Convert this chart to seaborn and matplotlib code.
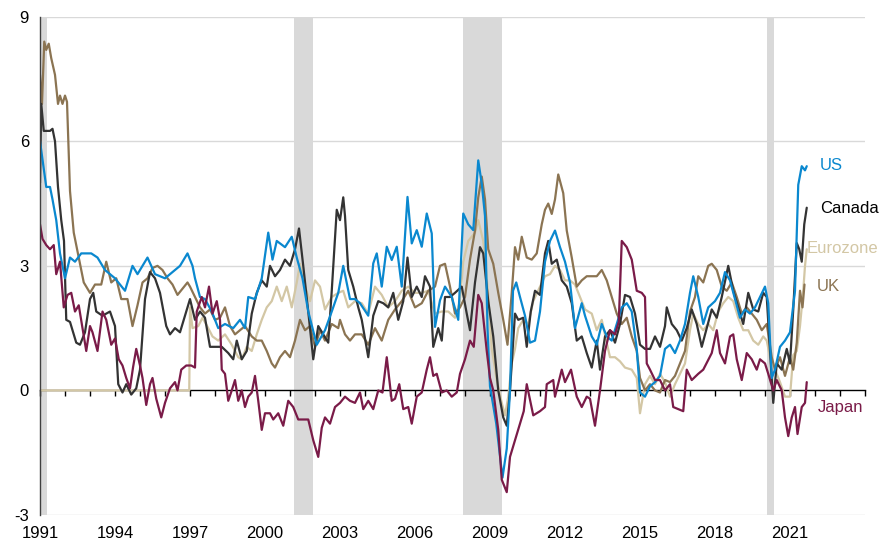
import pandas as pd
import numpy as np
import matplotlib.pyplot as plt
import seaborn as sns

# Headline inflation, % y/y
us_t = [1991.0, 1991.25, 1991.4, 1991.5, 1991.65, 1991.8, 1992.0, 1992.2, 1992.4, 1992.65, 1993.05, 1993.3, 1993.6,
        1994.0, 1994.4, 1994.7, 1994.9, 1995.3, 1995.6, 1996.0, 1996.4, 1996.6, 1996.9, 1997.1, 1997.2, 1997.4,
        1997.6, 1997.87, 1998.13, 1998.4, 1998.73, 1999.0, 1999.2, 1999.33, 1999.6, 1999.87, 2000.13, 2000.3,
        2000.47, 2000.8, 2001.07, 2001.27, 2001.5, 2001.73, 2002.07, 2002.4, 2002.67, 2002.93, 2003.13, 2003.4,
        2003.6, 2003.8, 2004.13, 2004.33, 2004.47, 2004.67, 2004.87, 2005.07, 2005.27, 2005.47, 2005.7, 2005.87,
        2006.07, 2006.27, 2006.47, 2006.67, 2006.8, 2007.0, 2007.2, 2007.47, 2007.73, 2007.93, 2008.13, 2008.33,
        2008.53, 2008.67, 2008.8, 2008.9, 2009.0, 2009.25, 2009.5, 2009.67, 2009.8, 2009.92, 2010.05, 2010.2,
        2010.4, 2010.6, 2010.8, 2011.0, 2011.2, 2011.4, 2011.6, 2011.8, 2012.0, 2012.2, 2012.4, 2012.67, 2012.8,
        2013.07, 2013.27, 2013.47, 2013.67, 2013.87, 2014.07, 2014.27, 2014.47, 2014.67, 2014.87, 2015.0, 2015.2,
        2015.4, 2015.6, 2015.8, 2016.0, 2016.2, 2016.4, 2016.6, 2016.8, 2017.0, 2017.13, 2017.33, 2017.53,
        2017.73, 2018.0, 2018.2, 2018.4, 2018.6, 2018.8, 2019.0, 2019.2, 2019.4, 2019.6, 2019.8, 2020.0, 2020.13,
        2020.27, 2020.4, 2020.6, 2020.8, 2021.0, 2021.2, 2021.33, 2021.47, 2021.6, 2021.67]
us_v = [6.0, 4.9, 4.9, 4.6, 4.1, 3.3, 2.7, 3.2, 3.1, 3.3, 3.3, 3.2, 2.9,
        2.7, 2.4, 3.0, 2.8, 3.2, 2.8, 2.7, 2.9, 3.0, 3.3, 3.0, 2.7, 2.25,
        2.2, 1.9, 1.5, 1.6, 1.5, 1.7, 1.5, 2.25, 2.2, 2.7, 3.8, 3.15,
        3.6, 3.45, 3.7, 3.2, 2.7, 1.9, 1.1, 1.45, 1.9, 2.35, 3.0, 2.2,
        2.2, 2.1, 1.8, 3.06, 3.3, 2.5, 3.46, 3.14, 3.46, 2.5, 4.66, 3.54,
        3.86, 3.46, 4.26, 3.78, 1.53, 2.17, 2.5, 2.25, 1.7, 4.26, 4.0, 3.86,
        5.54, 4.98, 4.2, 1.5, 0.1, -0.8, -2.1, -1.4, 0.0, 2.4, 2.6, 2.25,
        1.8, 1.15, 1.2, 1.9, 3.1, 3.6, 3.85, 3.45, 3.1, 2.6, 1.5, 2.1, 1.8,
        1.3, 1.1, 1.6, 1.3, 1.2, 1.6, 2.0, 2.1, 1.9, 1.0, -0.05, -0.15,
        0.1, 0.2, 0.35, 1.0, 1.1, 0.9, 1.2, 1.6, 2.35, 2.75, 2.25, 1.6,
        2.0, 2.15, 2.35, 2.85, 2.65, 2.2, 1.75, 1.95, 1.85, 2.0, 2.25, 2.5, 2.1,
        0.3, 0.5, 1.05, 1.2, 1.4, 2.4, 4.95, 5.4, 5.3, 5.4]

canada_t = [1991.0, 1991.05, 1991.15, 1991.4, 1991.5, 1991.6, 1991.72, 1991.85, 1991.96, 1992.05, 1992.2, 1992.45,
            1992.6, 1992.8, 1993.0, 1993.13, 1993.25, 1993.5, 1993.8, 1994.0, 1994.13, 1994.3, 1994.45, 1994.65,
            1994.85, 1995.0, 1995.2, 1995.4, 1995.6, 1995.8, 1996.05, 1996.2, 1996.4, 1996.6, 1996.85, 1997.0,
            1997.2, 1997.4, 1997.6, 1997.8, 1998.0, 1998.27, 1998.53, 1998.73, 1998.87, 1999.07, 1999.27, 1999.47,
            1999.67, 1999.87, 2000.07, 2000.2, 2000.4, 2000.6, 2000.8, 2001.0, 2001.2, 2001.36, 2001.53, 2001.73,
            2001.93, 2002.13, 2002.33, 2002.53, 2002.67, 2002.87, 2003.0, 2003.13, 2003.2, 2003.33, 2003.53,
            2003.73, 2003.87, 2004.13, 2004.33, 2004.53, 2004.73, 2004.93, 2005.13, 2005.33, 2005.53, 2005.7,
            2005.87, 2006.07, 2006.27, 2006.4, 2006.6, 2006.73, 2006.93, 2007.07, 2007.2, 2007.4, 2007.6, 2007.87,
            2008.07, 2008.2, 2008.4, 2008.6, 2008.73, 2008.93, 2009.13, 2009.33, 2009.53, 2009.67, 2009.8, 2010.0,
            2010.13, 2010.33, 2010.47, 2010.63, 2010.8, 2011.0, 2011.2, 2011.33, 2011.47, 2011.67, 2011.87,
            2012.07, 2012.27, 2012.47, 2012.67, 2012.87, 2013.07, 2013.27, 2013.4, 2013.6, 2013.8, 2014.0, 2014.2,
            2014.4, 2014.6, 2014.8, 2015.0, 2015.2, 2015.4, 2015.6, 2015.8, 2016.0, 2016.07, 2016.27, 2016.47,
            2016.67, 2016.87, 2017.07, 2017.27, 2017.47, 2017.67, 2017.87, 2018.07, 2018.27, 2018.53, 2018.73,
            2018.93, 2019.13, 2019.33, 2019.53, 2019.73, 2019.93, 2020.07, 2020.2, 2020.33, 2020.47, 2020.67,
            2020.87, 2021.0, 2021.13, 2021.27, 2021.37, 2021.47, 2021.57, 2021.67]
canada_v = [5.0, 6.9, 6.25, 6.25, 6.3, 6.0, 4.9, 4.1, 3.6, 1.7, 1.65, 1.15,
            1.1, 1.4, 2.2, 2.35, 1.9, 1.8, 1.9, 1.55, 0.15, -0.05, 0.15, -0.1,
            0.05, 0.5, 2.2, 2.85, 2.7, 2.35, 1.55, 1.35, 1.5, 1.4, 1.9, 2.2,
            1.7, 1.9, 1.75, 1.05, 1.05, 1.05, 0.9, 0.75, 1.2, 0.75, 0.95, 1.85,
            2.35, 2.65, 2.5, 3.0, 2.75, 2.9, 3.15, 3.0, 3.4, 3.9, 3.0, 1.9,
            0.75, 1.55, 1.35, 1.15, 2.4, 4.35, 4.1, 4.65, 4.2, 2.9, 2.5,
            2.0, 1.7, 0.8, 1.8, 2.15, 2.1, 2.0, 2.35, 1.7, 2.15, 3.2,
            2.25, 2.5, 2.25, 2.75, 2.5, 1.05, 1.5, 1.2, 2.25, 2.25, 2.35, 2.5,
            1.85, 1.45, 2.6, 3.45, 3.3, 2.15, 1.3, 0.0, -0.65, -0.85, 0.0, 1.85,
            1.7, 1.75, 1.05, 1.9, 2.4, 2.3, 3.3, 3.6, 3.05, 3.15, 2.65,
            2.5, 2.1, 1.2, 1.3, 0.9, 0.55, 1.2, 0.5, 1.3, 1.45, 1.15, 1.6,
            2.3, 2.25, 1.85, 1.1, 1.0, 1.0, 1.3, 1.05, 1.55, 2.0, 1.6, 1.45,
            1.2, 1.5, 1.95, 1.6, 1.05, 1.5, 1.95, 1.75, 2.25, 3.0, 2.4,
            2.0, 1.6, 2.35, 1.95, 1.9, 2.35, 2.25, 0.95, -0.3, 0.65, 0.5,
            1.0, 0.65, 1.95, 3.55, 3.4, 3.1, 4.0, 4.4]

euro_t = [1991.0, 1996.97, 1997.0, 1997.1, 1997.33, 1997.5, 1997.73, 1997.9, 1998.13, 1998.4, 1998.67, 1998.93,
          1999.07, 1999.27, 1999.47, 1999.67, 1999.87, 2000.07, 2000.27, 2000.47, 2000.67, 2000.87, 2001.07,
          2001.27, 2001.4, 2001.6, 2001.8, 2002.0, 2002.2, 2002.4, 2002.67, 2002.93, 2003.13, 2003.33, 2003.6,
          2003.87, 2004.13, 2004.4, 2004.67, 2004.93, 2005.2, 2005.47, 2005.73, 2006.0, 2006.27, 2006.53, 2006.8,
          2007.07, 2007.33, 2007.6, 2007.8, 2007.93, 2008.13, 2008.4, 2008.53, 2008.73, 2008.93, 2009.07,
          2009.27, 2009.47, 2009.6, 2009.73, 2009.87, 2010.0, 2010.13, 2010.33, 2010.53, 2010.73, 2011.0, 2011.2,
          2011.4, 2011.6, 2011.8, 2012.0, 2012.2, 2012.4, 2012.6, 2012.8, 2013.07, 2013.27, 2013.47, 2013.67,
          2013.8, 2014.0, 2014.2, 2014.4, 2014.67, 2014.87, 2015.0, 2015.2, 2015.4, 2015.6, 2015.8, 2016.0,
          2016.2, 2016.4, 2016.6, 2016.8, 2017.0, 2017.13, 2017.33, 2017.53, 2017.73, 2017.93, 2018.13, 2018.33,
          2018.53, 2018.73, 2018.93, 2019.13, 2019.33, 2019.53, 2019.73, 2019.93, 2020.07, 2020.2, 2020.4,
          2020.6, 2020.8, 2021.0, 2021.13, 2021.27, 2021.4, 2021.53, 2021.6, 2021.67]
euro_v = [0.0, 0.0, 2.0, 1.5, 1.55, 1.75, 1.5, 1.3, 1.2, 1.35, 1.1, 0.8,
          0.75, 1.05, 0.95, 1.35, 1.7, 2.0, 2.15, 2.5, 2.15, 2.5, 2.0,
          2.6, 3.05, 2.5, 2.15, 2.65, 2.5, 1.95, 2.25, 2.35, 2.4, 2.0, 2.15,
          2.1, 1.85, 2.5, 2.3, 2.0, 2.15, 2.4, 2.5, 2.35, 2.35, 2.4, 1.85,
          1.9, 1.9, 1.75, 2.15, 3.1, 3.6, 3.8, 4.1, 3.6, 2.3, 1.0,
          0.25, -0.3, -0.6, -0.15, 0.65, 1.0, 1.5, 1.7, 1.6, 2.15, 2.5, 2.75,
          2.8, 3.0, 2.9, 2.65, 2.65, 2.55, 2.25, 1.95, 1.85, 1.45, 1.7, 1.15,
          0.8, 0.8, 0.7, 0.55, 0.5, 0.3, -0.55, 0.15, 0.35, 0.15, 0.4, 0.2,
          -0.15, 0.15, 0.4, 0.65, 1.45, 1.85, 1.6, 1.45, 1.6, 1.45, 1.9, 2.1,
          2.25, 2.15, 1.75, 1.45, 1.45, 1.2, 1.1, 1.3, 1.2, 0.8, 0.5,
          0.2, -0.15, -0.15, 0.85, 0.95, 1.55, 2.4, 3.0, 3.4]

uk_t = [1991.0, 1991.08, 1991.17, 1991.25, 1991.35, 1991.45, 1991.6, 1991.72, 1991.8, 1991.9, 1992.0, 1992.08,
        1992.2, 1992.35, 1992.55, 1992.75, 1993.0, 1993.2, 1993.45, 1993.65, 1993.85, 1994.05, 1994.25, 1994.5,
        1994.7, 1994.9, 1995.1, 1995.3, 1995.5, 1995.7, 1995.9, 1996.1, 1996.3, 1996.5, 1996.7, 1996.9, 1997.0,
        1997.2, 1997.4, 1997.6, 1997.8, 1998.0, 1998.2, 1998.4, 1998.6, 1998.8, 1999.0, 1999.2, 1999.47, 1999.67,
        1999.87, 2000.07, 2000.27, 2000.4, 2000.6, 2000.8, 2001.0, 2001.2, 2001.4, 2001.6, 2001.8, 2002.0,
        2002.2, 2002.4, 2002.67, 2002.93, 2003.0, 2003.2, 2003.4, 2003.6, 2003.87, 2004.13, 2004.4, 2004.67,
        2004.93, 2005.2, 2005.47, 2005.73, 2006.0, 2006.27, 2006.53, 2006.8, 2007.0, 2007.2, 2007.4, 2007.6,
        2007.8, 2008.0, 2008.2, 2008.4, 2008.53, 2008.67, 2008.8, 2008.93, 2009.13, 2009.33, 2009.53, 2009.7,
        2009.87, 2010.0, 2010.13, 2010.27, 2010.47, 2010.67, 2010.87, 2011.07, 2011.2, 2011.33, 2011.47,
        2011.6, 2011.73, 2011.93, 2012.07, 2012.27, 2012.47, 2012.67, 2012.87, 2013.07, 2013.27, 2013.47,
        2013.67, 2013.87, 2014.07, 2014.27, 2014.47, 2014.67, 2014.87, 2015.0, 2015.2, 2015.4, 2015.6, 2015.8,
        2016.0, 2016.2, 2016.4, 2016.6, 2016.8, 2017.0, 2017.2, 2017.33, 2017.53, 2017.73, 2017.87, 2018.07,
        2018.27, 2018.47, 2018.67, 2018.87, 2019.07, 2019.27, 2019.47, 2019.67, 2019.87, 2020.07, 2020.27,
        2020.4, 2020.6, 2020.8, 2021.0, 2021.13, 2021.27, 2021.4, 2021.5, 2021.58]
uk_v = [7.6, 6.9, 8.4, 8.2, 8.35, 8.0, 7.6, 6.9, 7.1, 6.9, 7.1, 6.95,
        4.8, 3.8, 3.2, 2.6, 2.35, 2.55, 2.55, 3.1, 2.6, 2.7, 2.2, 2.2,
        1.55, 2.05, 2.6, 2.7, 2.95, 3.0, 2.9, 2.7, 2.55, 2.3, 2.45, 2.6, 2.5,
        2.25, 2.0, 1.85, 1.95, 1.7, 1.75, 2.0, 1.55, 1.35, 1.45, 1.55, 1.3, 1.2,
        1.2, 0.95, 0.65, 0.55, 0.8, 0.95, 0.8, 1.2, 1.7, 1.45, 1.55, 1.05,
        1.45, 1.2, 1.6, 1.5, 1.7, 1.35, 1.2, 1.35, 1.35, 1.1, 1.5, 1.2,
        1.7, 1.95, 2.15, 2.4, 2.0, 2.1, 2.4, 2.5, 3.0, 3.05, 2.5, 1.85,
        2.0, 2.25, 3.15, 3.85, 4.65, 5.15, 4.6, 3.4, 3.05, 2.35, 1.7, 1.1,
        2.35, 3.45, 3.15, 3.7, 3.2, 3.15, 3.3, 4.0, 4.35, 4.5, 4.25,
        4.6, 5.2, 4.75, 3.85, 3.2, 2.5, 2.65, 2.75, 2.75, 2.75, 2.9,
        2.65, 2.25, 1.85, 1.6, 1.75, 1.3, 0.95, 0.3, 0.0, 0.15, 0.0, -0.05,
        0.25, 0.2, 0.35, 0.65, 0.95, 1.9, 2.25, 2.75, 2.6, 3.0, 3.05, 2.9,
        2.5, 2.4, 2.6, 2.25, 1.85, 2.0, 1.85, 1.7, 1.45, 1.6, 0.8,
        0.5, 0.8, 0.35, 0.8, 0.5, 1.15, 2.4, 2.0, 2.55]

japan_t = [1991.0, 1991.1, 1991.25, 1991.4, 1991.55, 1991.65, 1991.8, 1991.95, 1992.1, 1992.25, 1992.4, 1992.55,
           1992.7, 1992.85, 1993.0, 1993.1, 1993.3, 1993.5, 1993.65, 1993.85, 1994.0, 1994.15, 1994.3, 1994.45,
           1994.6, 1994.72, 1994.85, 1995.0, 1995.1, 1995.25, 1995.4, 1995.5, 1995.65, 1995.85, 1996.0, 1996.2,
           1996.4, 1996.5, 1996.65, 1996.85, 1997.05, 1997.2, 1997.27, 1997.47, 1997.6, 1997.76, 1997.9, 1998.07,
           1998.2, 1998.27, 1998.4, 1998.53, 1998.67, 1998.8, 1998.93, 1999.07, 1999.2, 1999.33, 1999.47, 1999.6,
           1999.73, 1999.87, 2000.0, 2000.2, 2000.33, 2000.53, 2000.73, 2000.93, 2001.13, 2001.33, 2001.53,
           2001.73, 2001.93, 2002.13, 2002.27, 2002.4, 2002.6, 2002.8, 2003.0, 2003.2, 2003.4, 2003.6, 2003.8,
           2003.93, 2004.13, 2004.33, 2004.53, 2004.7, 2004.87, 2005.07, 2005.2, 2005.37, 2005.53, 2005.73,
           2005.87, 2006.07, 2006.27, 2006.47, 2006.6, 2006.73, 2006.87, 2007.07, 2007.27, 2007.47, 2007.67,
           2007.8, 2008.0, 2008.2, 2008.35, 2008.53, 2008.67, 2008.87, 2009.0, 2009.13, 2009.33, 2009.47, 2009.67,
           2009.8, 2010.0, 2010.2, 2010.35, 2010.47, 2010.73, 2011.0, 2011.2, 2011.27, 2011.53, 2011.6, 2011.87,
           2012.0, 2012.24, 2012.47, 2012.67, 2012.87, 2013.0, 2013.2, 2013.4, 2013.6, 2013.8, 2014.0, 2014.15,
           2014.27, 2014.47, 2014.67, 2014.87, 2015.07, 2015.2, 2015.27, 2015.4, 2015.6, 2015.8, 2016.0, 2016.2,
           2016.33, 2016.53, 2016.73, 2016.87, 2017.07, 2017.33, 2017.53, 2017.7, 2017.87, 2018.07, 2018.2,
           2018.4, 2018.6, 2018.73, 2018.87, 2019.07, 2019.27, 2019.47, 2019.67, 2019.8, 2020.0, 2020.13,
           2020.33, 2020.47, 2020.67, 2020.8, 2020.93, 2021.07, 2021.2, 2021.3, 2021.47, 2021.6, 2021.67]
japan_v = [4.0, 3.65, 3.5, 3.4, 3.5, 2.8, 3.1, 2.0, 2.3, 2.35, 1.9, 2.05,
           1.5, 0.95, 1.55, 1.4, 0.95, 1.9, 1.7, 1.1, 1.25, 0.75, 0.6, 0.3,
           0.05, 0.55, 1.0, 0.6, 0.3, -0.35, 0.15, 0.3, -0.2, -0.65, -0.3, 0.05,
           0.2, 0.0, 0.5, 0.6, 0.6, 0.55, 1.9, 2.25, 2.0, 2.5, 1.85, 2.15,
           1.7, 0.5, 0.4, -0.25, 0.0, 0.25, -0.25, 0.0, -0.4, -0.15, -0.05, 0.35,
           -0.25, -0.95, -0.55, -0.55, -0.7, -0.55, -0.85, -0.25, -0.4, -0.7, -0.7,
           -0.7, -1.2, -1.6, -0.9, -0.65, -0.8, -0.4, -0.3, -0.15, -0.25, -0.3, -0.05,
           -0.45, -0.25, -0.45, 0.0, -0.05, 0.8, -0.25, -0.2, 0.15, -0.45, -0.4,
           -0.8, -0.15, -0.05, 0.5, 0.8, 0.35, 0.4, -0.05, 0.0, -0.15, -0.05,
           0.4, 0.75, 1.2, 1.05, 2.3, 2.1, 0.95, 0.3, 0.0, -0.95, -2.15, -2.45,
           -1.6, -1.2, -0.8, -0.5, 0.15, -0.6, -0.5, -0.4, 0.15, 0.25, -0.15, 0.5,
           0.2, 0.5, -0.15, -0.4, -0.15, -0.2, -0.85, 0.0, 0.95, 1.45, 1.35, 1.65,
           3.6, 3.45, 3.15, 2.4, 2.35, 2.25, 0.65, 0.5, 0.25, 0.25, 0.0, 0.15,
           -0.4, -0.45, -0.5, 0.5, 0.25, 0.4, 0.5, 0.7, 0.9, 1.45, 0.9,
           0.65, 1.3, 1.35, 0.75, 0.25, 0.9, 0.75, 0.5, 0.75, 0.65, 0.4,
           0.0, 0.25, 0.0, -0.65, -1.1, -0.65, -0.4, -1.05, -0.4, -0.3, 0.2]

series = ['Eurozone', 'UK', 'Canada', 'US', 'Japan']
colors = {'US': '#0a88cf', 'Canada': '#333333', 'Eurozone': '#d3c7a5', 'UK': '#8b7452', 'Japan': '#7a1b48'}
label_colors = {'US': '#0a88cf', 'Canada': '#000000', 'Eurozone': '#d3c7a5', 'UK': '#8b7452', 'Japan': '#7a1b48'}
label_pos = {'US': (2022.2, 5.42), 'Canada': (2022.2, 4.38), 'Eurozone': (2021.65, 3.42),
             'UK': (2022.05, 2.5), 'Japan': (2022.1, -0.42)}
recessions = [(1991.0, 1991.27), (2001.15, 2001.93), (2007.9, 2009.5), (2020.07, 2020.35)]

frames = []
for name, t, v in [('US', us_t, us_v), ('Canada', canada_t, canada_v), ('Eurozone', euro_t, euro_v),
                   ('UK', uk_t, uk_v), ('Japan', japan_t, japan_v)]:
    frames.append(pd.DataFrame({'year': t, 'value': v, 'country': name}))
df = pd.concat(frames, ignore_index=True)

sns.set_theme(style='white')
plt.rcParams['font.family'] = ['Liberation Sans', 'DejaVu Sans']
plt.rcParams['axes.unicode_minus'] = False

fig = plt.figure(figsize=(8.83, 5.46), dpi=100)
ax = fig.add_axes([40 / 883, 31 / 546, 825 / 883, 498.3 / 546])

for x0, x1 in recessions:
    ax.axvspan(x0, x1, color='#d9d9d9', lw=0, zorder=0)

for y in [-3, 3, 6, 9]:
    ax.axhline(y, color='#d9d9d9', lw=1, zorder=0.5)

for name in series:
    sub = df[df['country'] == name]
    sns.lineplot(data=sub, x='year', y='value', color=colors[name], lw=1.6,
                 estimator=None, sort=False, ax=ax, legend=False, zorder=2)

for name, (x, y) in label_pos.items():
    ax.text(x, y, name, color=label_colors[name], fontsize=12, va='center', ha='left')

ax.set_xlim(1991, 2024)
ax.set_ylim(-3, 9)
ax.set_xticks(range(1991, 2022, 3))
ax.set_yticks([-3, 0, 3, 6, 9])
ax.tick_params(axis='x', length=0, labelsize=12, pad=8, colors='#000000')
ax.tick_params(axis='y', length=5, width=1, direction='out', labelsize=12, colors='#404040', labelcolor='#000000', pad=3)
ax.set_xlabel('')
ax.set_ylabel('')
for s in ['top', 'right', 'bottom']:
    ax.spines[s].set_visible(False)
ax.spines['left'].set_color('#404040')
ax.spines['left'].set_linewidth(1)

# zero line with yearly tick marks
zero = ax.secondary_xaxis(0.25)
zero.set_xticks(range(1991, 2025))
zero.set_xticklabels([])
zero.tick_params(axis='x', length=4, width=1, direction='out', colors='#000000')
zero.spines['bottom'].set_color('#000000')
zero.spines['bottom'].set_linewidth(1)

fig.savefig('out.png', dpi=100)
